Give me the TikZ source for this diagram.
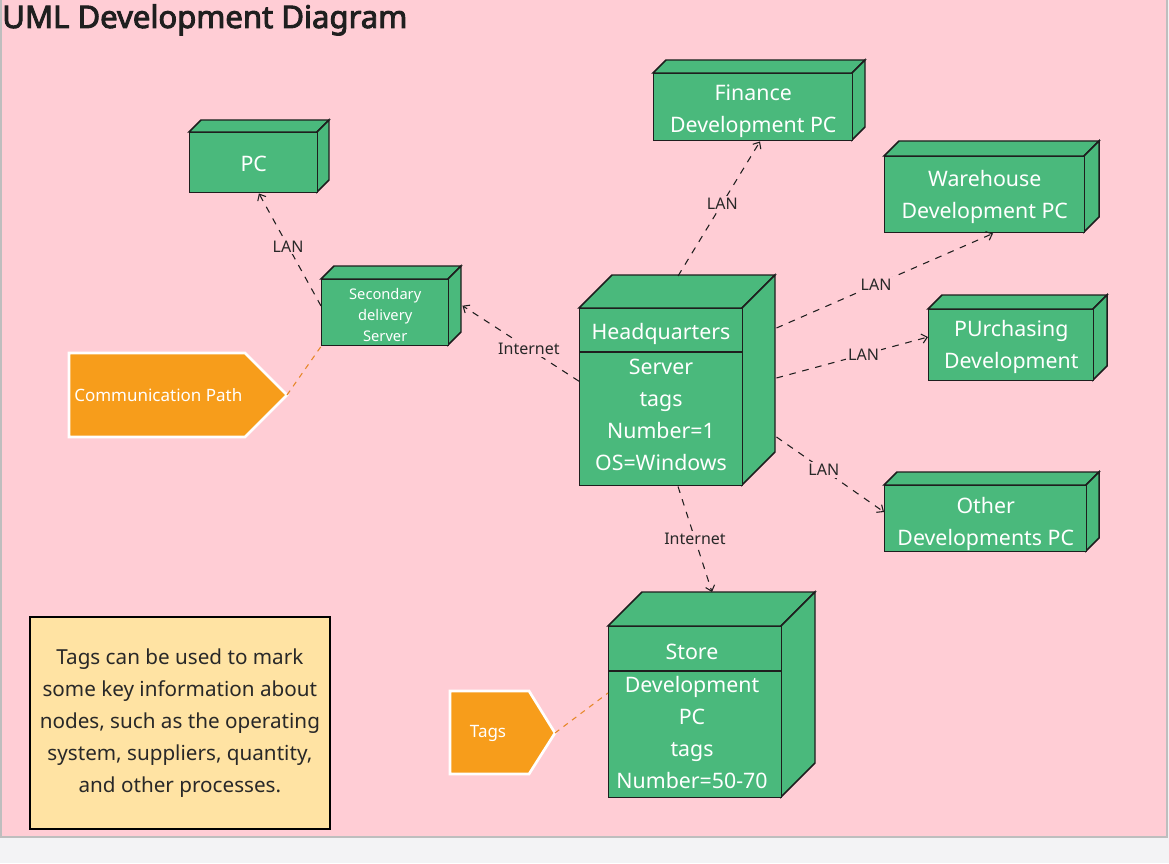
\documentclass[tikz,border=0pt]{standalone}
\usepackage{fontspec}
\setmainfont{Noto Sans}
\newfontfamily\titlefont{Noto Sans}[FakeBold=3]
\usetikzlibrary{arrows.meta,calc}
\newdimen\px \px=0.75pt
\definecolor{bgpink}{RGB}{255,205,213}
\definecolor{outergray}{RGB}{243,243,245}
\definecolor{framegray}{RGB}{190,190,190}
\definecolor{nodegreen}{RGB}{74,185,124}
\definecolor{edgecol}{RGB}{30,30,30}
\definecolor{tagorange}{RGB}{247,157,27}
\definecolor{dashorange}{RGB}{230,135,40}
\definecolor{noteyellow}{RGB}{255,227,163}
\definecolor{textdark}{RGB}{40,40,40}
\tikzset{
  face/.style={fill=nodegreen, draw=edgecol, line width=1.1pt, line join=miter},
  front/.style={fill=nodegreen, draw=edgecol, line width=1.1pt, inner sep=0pt, text=white, align=center,
                font=\fontsize{16}{24}\selectfont},
  boxtext/.style={text=white, align=center, inner sep=0pt, font=\fontsize{16}{24}\selectfont},
  conn/.style={draw=edgecol, line width=0.8pt, dash pattern=on 5pt off 5pt,
               -{Straight Barb[length=4pt,width=7pt,line width=0.8pt]}},
  lbl/.style={fill=bgpink, text=textdark, inner sep=1.5pt, font=\fontsize{12}{14}\selectfont},
  orangedash/.style={draw=dashorange, line width=0.8pt, dash pattern=on 4pt off 4pt},
  tagshape/.style={fill=tagorange, draw=white, line width=2pt, line join=miter},
  tagtext/.style={text=white, inner sep=0pt, font=\fontsize{12.75}{15}\selectfont},
}
\newcommand{\devbox}[9][]{%
  \filldraw[face] (#3,#4) -- (#3+#7,#4-#7) -- (#5+#7,#4-#7) -- (#5,#4) -- cycle;
  \filldraw[face] (#5,#4) -- (#5+#7,#4-#7) -- (#5+#7,#6-#7) -- (#5,#6) -- cycle;
  \node[front, minimum width={(#5-#3)*\px}, minimum height={(#6-#4)*\px}, anchor=north west, #1] (#2) at (#3,#4) {\raisebox{#8}[\height][\depth]{\begin{tabular}{@{}c@{}}#9\end{tabular}}};
}
\begin{document}
\begin{tikzpicture}[x=0.75pt, y=-0.75pt]
\useasboundingbox (0,0) rectangle (1169,863);
\fill[outergray] (0,0) rectangle (1169,863);
\filldraw[fill=bgpink, draw=framegray, line width=1.5pt] (1,-2) rectangle (1167,837);

\node[anchor=base west, inner sep=0pt, text=black!88, font=\titlefont\fontsize{23.3}{28}\selectfont] (title) at (2,28) {UML Development Diagram};

% boxes
\devbox{pc}{189}{132}{317}{192}{12}{-1.5pt}{PC}
\devbox[font=\fontsize{11}{15.75}\selectfont]{sec}{321}{279}{448}{345}{13}{-3pt}{Secondary\\delivery\\Server}
\devbox{fin}{653}{73}{852}{140}{13}{-2pt}{Finance\\Development PC}
\devbox{wh}{884}{156}{1084}{232}{15}{-1pt}{Warehouse\\Development PC}
\devbox{pur}{928}{309}{1093}{380}{14}{-1pt}{PUrchasing\\Development}
\devbox{oth}{884}{485}{1086}{551}{13}{-3pt}{Other\\Developments PC}
\devbox{hq}{579}{308}{742}{485}{33}{0pt}{}
\draw[edgecol, line width=1.1pt] ($(hq.north west)+(0,44)$) -- ($(hq.north east)+(0,44)$);
\node[boxtext] (hqhead) at (661,334) {Headquarters};
\node[boxtext] (hqbody) at (661,415) {Server\\tags\\Number=1\\OS=Windows};
\devbox{st}{608}{626}{781}{797}{34}{0pt}{}
\draw[edgecol, line width=1.1pt] ($(st.north west)+(0,45)$) -- ($(st.north east)+(0,45)$);
\node[boxtext] (sthead) at (692,652) {Store};
\node[boxtext] (stbody) at (692,732.5) {Development\\PC\\tags\\Number=50-70};

% connectors
\draw[conn] ($(sec.north west)!0.4!(sec.south west)$) -- node[lbl, pos=0.53] (l1) {LAN} ($(pc.south west)!0.54!(pc.south east)$);
\draw[conn] ($(hq.west)+(0,-16)$) -- node[lbl, pos=0.43] (l2) {Internet} ($(sec.east)+(13,-7)$);
\draw[conn] ($(hq.north west)+(99,-32)$) -- node[lbl, pos=0.54] (l3) {LAN} ($(fin.south west)+(107,0)$);
\draw[conn] ($(hq.north east)+(33,20)$) -- node[lbl, pos=0.46] (l4) {LAN} ($(wh.south west)+(109,0)$);
\draw[conn] ($(hq.north east)+(33,70)$) -- node[lbl, pos=0.575] (l5) {LAN} ($(pur.north west)+(0,28)$);
\draw[conn] ($(hq.north east)+(33,129)$) -- node[lbl, pos=0.44] (l6) {LAN} ($(oth.north west)+(0,27)$);
\draw[conn] ($(hq.south west)+(99,0)$) -- node[lbl, pos=0.5] (l7) {Internet} ($(st.north west)+(104,-34)$);

% tags
\filldraw[tagshape] (69,353) -- (245,353) -- (287,395) -- (245,437) -- (69,437) -- cycle;
\coordinate (commtip) at (287,395);
\node[tagtext, anchor=west] (comm) at (74,395) {Communication Path};
\draw[orangedash] (commtip) -- (sec.south west);

\filldraw[tagshape] (450,691) -- (529,691) -- (555,733) -- (529,774) -- (450,774) -- cycle;
\coordinate (tagstip) at (555,733);
\node[tagtext] (tags) at (488,733) {Tags};
\draw[orangedash] (tagstip) -- ($(st.north west)+(0,67)$);

% note
\node[fill=noteyellow, draw=black, line width=1.3pt, minimum width={300*\px}, minimum height={212*\px}, anchor=north west, inner sep=0pt, align=center, text=textdark, font=\fontsize{15.5}{24}\selectfont] (note) at (29,616) {Tags can be used to mark\\some key information about\\nodes, such as the operating\\system, suppliers, quantity,\\and other processes.};
\end{tikzpicture}
\end{document}
